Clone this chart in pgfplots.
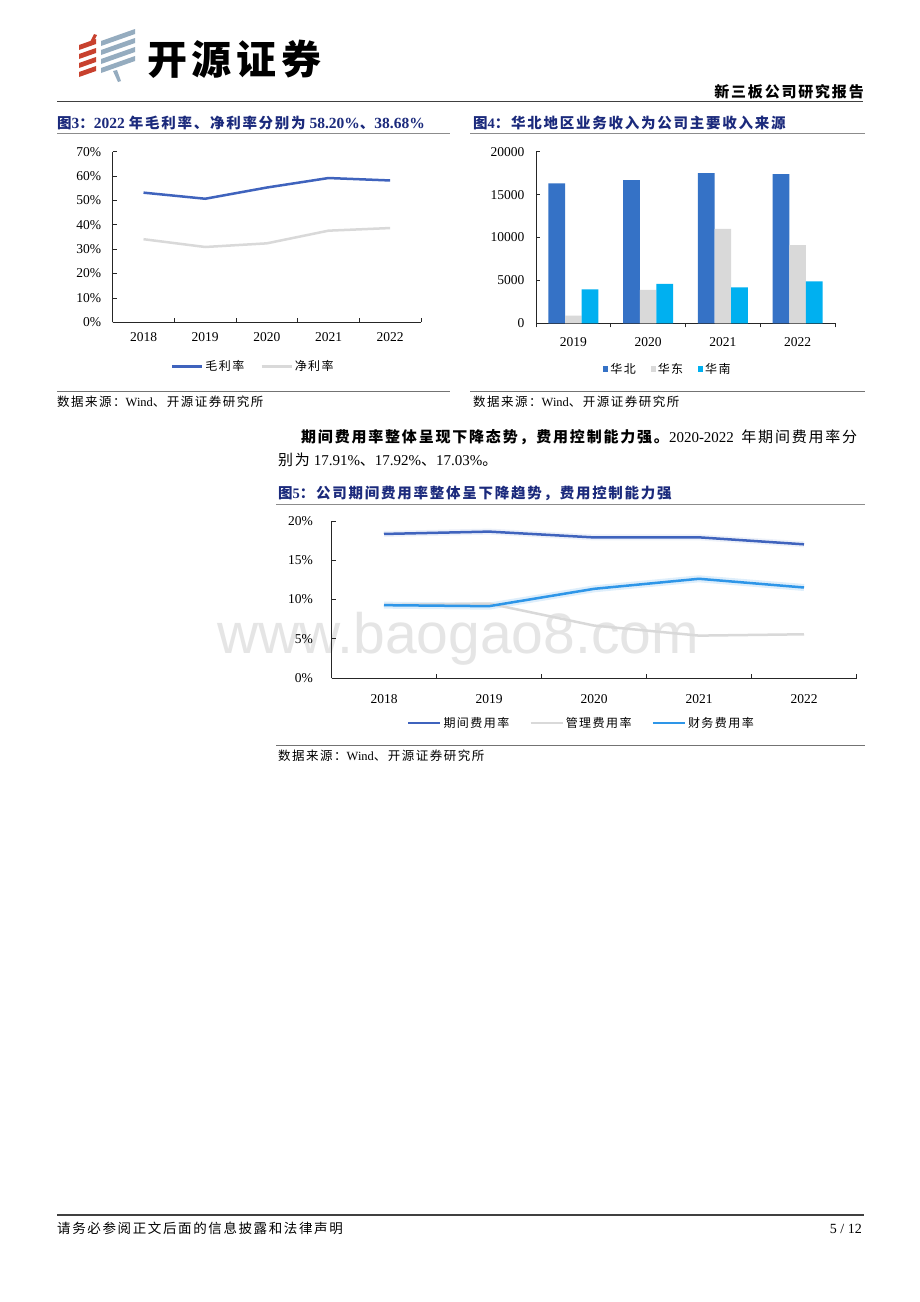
\documentclass[border=0pt]{standalone}
\usepackage{fontspec}
\usepackage{pgfplots}
\pgfplotsset{compat=1.18}
\setmainfont{Liberation Serif}
\setsansfont{Liberation Sans}
\newfontfamily\zh[LetterSpace=12]{Noto Sans CJK SC}
\definecolor{navy}{HTML}{1B2A7C}
\definecolor{bdark}{HTML}{3F63BD}
\definecolor{lgray}{HTML}{D9D9D9}
\definecolor{hb}{HTML}{3572C6}
\definecolor{hn}{HTML}{00B0F0}
\definecolor{cw}{HTML}{2E96E8}
\definecolor{logored}{HTML}{C8412E}
\definecolor{logoblue}{HTML}{95ACBF}
\newcommand{\fs}[1]{\fontsize{#1}{#1}\selectfont}
\pgfplotsset{
  rpt/.style={
    scale only axis, anchor=south west,
    axis x line*=bottom, axis y line*=left,
    axis line style={-, black!85, line width=0.8pt},
    tick style={black!85, line width=0.8pt},
    tick align=inside, major tick length=4pt,
    x tick label as interval,
    scaled y ticks=false,
    ticklabel style={font=\fs{13.5}},
    xticklabel style={yshift=-7pt},
    yticklabel style={xshift=-8pt},
    legend style={draw=none, fill=none, legend columns=-1, font=\fs{12}\zh,
      /tikz/every even column/.append style={column sep=14pt},
      anchor=center},
    legend cell align=left,
  },
}
\begin{document}
\begin{tikzpicture}[x=1pt,y=-1pt]
\fill[white] (0,0) rectangle (920,1302);
% ---- logo ----
\foreach \i in {0,1,2,3}{
  \fill[logored] (79,{77-9*\i}) -- (96,{71-9*\i}) -- (96,{66-9*\i}) -- (79,{72-9*\i}) -- cycle;
  \fill[logoblue] (101,{73-9*\i}) -- (135,{61-9*\i}) -- (135,{56-9*\i}) -- (101,{68-9*\i}) -- cycle;
}
\fill[logored] (90,42) -- (94,34) -- (97,35) -- (93,43) -- cycle;
\fill[logoblue] (113,71) -- (118,82) -- (121,81) -- (117,70) -- cycle;
\node[anchor=base west, inner sep=0, font=\fs{40}\zh\bfseries] at (147,74) {开源证券};
\node[anchor=base east, inner sep=0, font=\fs{15}\zh\bfseries] at (864,97) {新三板公司研究报告};
\draw[line width=1.3pt, black!75] (57,101.7) -- (863,101.7);
% ---- titles and rules ----
\node[anchor=base west, inner sep=0, text=navy, font=\fs{15.5}\bfseries] at (57,128.5)
  {{\fs{14.5}\zh 图}3{\fs{14.5}\zh ：}2022 {\fs{14.5}\zh 年毛利率、净利率分别为} 58.20\%{\fs{14.5}\zh 、}38.68\%};
\node[anchor=base west, inner sep=0, text=navy, font=\fs{14.5}\bfseries] at (473,128.5)
  {{\zh 图}4{\zh ：华北地区业务收入为公司主要收入来源}};
\draw[line width=0.9pt, black!45] (57,133.3) -- (450,133.3);
\draw[line width=0.9pt, black!45] (470,133.3) -- (865,133.3);
\draw[line width=0.9pt, black!55] (57,391) -- (450,391);
\draw[line width=0.9pt, black!55] (470,391) -- (865,391);
\node[anchor=base west, inner sep=0, font=\fs{12.5}] at (57,406.8) {{\zh 数据来源：}Wind{\zh 、开源证券研究所}};
\node[anchor=base west, inner sep=0, font=\fs{12.5}] at (473,406.8) {{\zh 数据来源：}Wind{\zh 、开源证券研究所}};
% ---- body ----
\node[anchor=base west, inner sep=0, font=\fs{15}] at (301,442.7)
  {\hbox to 556pt{{\zh\bfseries 期间费用率整体呈现下降态势，费用控制能力强。}2020-2022\hfil{\zh 年期间费用率分}}};
\node[anchor=base west, inner sep=0, font=\fs{15}] at (278,465.7)
  {{\zh 别为} 17.91\%{\zh 、}17.92\%{\zh 、}17.03\%{\zh 。}};
\node[anchor=base west, inner sep=0, text=navy, font=\fs{14.5}\bfseries] at (278,498)
  {{\zh 图}5{\zh ：公司期间费用率整体呈下降趋势，费用控制能力强}};
\draw[line width=0.9pt, black!45] (276,504) -- (865,504);
\draw[line width=0.9pt, black!55] (276,745) -- (865,745);
\node[anchor=base west, inner sep=0, font=\fs{12.5}] at (278,760.8) {{\zh 数据来源：}Wind{\zh 、开源证券研究所}};
% ---- footer ----
\draw[line width=1.3pt, black!75] (57,1215) -- (864,1215);
\node[anchor=base west, inner sep=0, font=\fs{13.5}\zh] at (57,1233) {请务必参阅正文后面的信息披露和法律声明};
\node[anchor=base east, inner sep=0, font=\fs{14}] at (862,1233) {5 / 12};

% ---- chart 1 ----
\begin{axis}[rpt, at={(112.7pt,-322.3pt)}, width=308.3pt, height=170.6pt,
  xmin=-0.5, xmax=4.5, ymin=0, ymax=70,
  xtick={-0.5,0.5,1.5,2.5,3.5,4.5}, xticklabels={2018,2019,2020,2021,2022},
  ytick={0,10,20,30,40,50,60,70},
  yticklabels={0\%,10\%,20\%,30\%,40\%,50\%,60\%,70\%},
  legend style={at={(0.456,-0.26)}},
  legend image code/.code={\draw[#1, line width=2.5pt] (0pt,0pt) -- (30pt,0pt);}]
\addplot[bdark, line width=2.5pt] coordinates {(0,53.2)(1,50.7)(2,55.3)(3,59.2)(4,58.2)};
\addlegendentry{毛利率}
\addplot[lgray, line width=2.5pt] coordinates {(0,34.1)(1,30.9)(2,32.4)(3,37.6)(4,38.68)};
\addlegendentry{净利率}
\end{axis}

% ---- chart 2 ----
\begin{axis}[rpt, at={(536pt,-323.3pt)}, width=299pt, height=171.6pt,
  xmin=-0.5, xmax=3.5, ymin=0, ymax=20000,
  ybar=0pt, bar width=16.6pt,
  xtick={-0.5,0.5,1.5,2.5,3.5}, xticklabels={2019,2020,2021,2022},
  ytick={0,5000,10000,15000,20000},
  yticklabels={0,5000,10000,15000,20000},
  legend style={at={(0.4415,-0.268)}, /tikz/every even column/.append style={column sep=13pt}},
  legend image code/.code={\fill[#1] (0pt,-2.8pt) rectangle (5pt,2.8pt);}]
\addplot[fill=hb, draw=none] coordinates {(0,16300)(1,16700)(2,17500)(3,17400)};
\addlegendentry{华北}
\addplot[fill=lgray, draw=none] coordinates {(0,900)(1,3900)(2,11000)(3,9100)};
\addlegendentry{华东}
\addplot[fill=hn, draw=none] coordinates {(0,3950)(1,4600)(2,4200)(3,4900)};
\addlegendentry{华南}
\end{axis}

% ---- watermark (behind chart 3) ----
\node[anchor=base west, inner sep=0, font=\fs{57}\sffamily, text=black!10] at (217,653) {www.baogao8.com};

% ---- chart 3 ----
\begin{axis}[rpt, at={(331.5pt,-678pt)}, width=525pt, height=157pt,
  xmin=-0.5, xmax=4.5, ymin=0, ymax=20,
  xtick={-0.5,0.5,1.5,2.5,3.5,4.5}, xticklabels={2018,2019,2020,2021,2022},
  xticklabel style={yshift=-6pt},
  yticklabel style={xshift=-7pt},
  ytick={0,5,10,15,20},
  yticklabels={0\%,5\%,10\%,15\%,20\%},
  legend style={at={(0.476,-0.287)}, /tikz/every even column/.append style={column sep=18pt}},
  legend image code/.code={\draw[#1, line width=2.5pt] (0pt,0pt) -- (32pt,0pt);}]
\addplot[bdark!15, line width=6pt, opacity=0.6, forget plot] coordinates {(0,18.35)(1,18.65)(2,17.91)(3,17.92)(4,17.03)};
\addplot[cw!22, line width=7pt, opacity=0.7, forget plot] coordinates {(0,9.28)(1,9.15)(2,11.36)(3,12.64)(4,11.53)};
\addplot[bdark, line width=2.5pt] coordinates {(0,18.35)(1,18.65)(2,17.91)(3,17.92)(4,17.03)};
\addlegendentry{期间费用率}
\addplot[lgray, line width=2.5pt] coordinates {(0,9.3)(1,9.49)(2,6.68)(3,5.40)(4,5.57)};
\addlegendentry{管理费用率}
\addplot[cw, line width=2.5pt] coordinates {(0,9.28)(1,9.15)(2,11.36)(3,12.64)(4,11.53)};
\addlegendentry{财务费用率}
\end{axis}
\end{tikzpicture}
\end{document}
